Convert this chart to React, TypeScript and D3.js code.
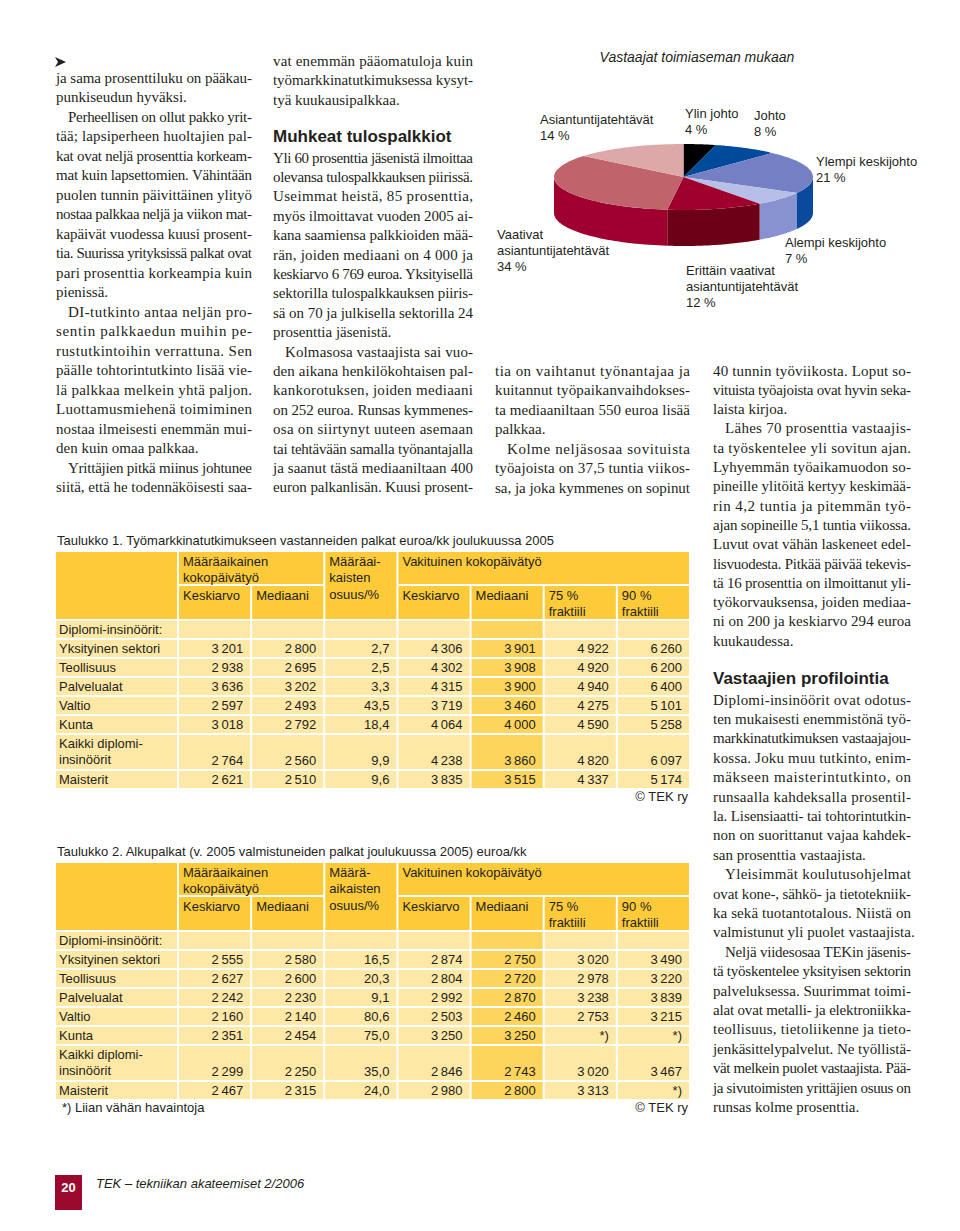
import React from "react";
import * as d3 from "d3";

// ---- pie: Vastaajat toimiaseman mukaan ----
const pieNames = [
  ["Ylin johto"],
  ["Johto"],
  ["Ylempi keskijohto"],
  ["Alempi keskijohto"],
  ["Erittäin vaativat", "asiantuntijatehtävät"],
  ["Vaativat", "asiantuntijatehtävät"],
  ["Asiantuntijatehtävät"],
];
const pieValues = [4, 8, 21, 7, 12, 34, 14];
const pieTop = ["#000000", "#004a9c", "#7580c4", "#b7bee8", "#a0002e", "#c0636b", "#dda8a8"];
const pieSide = ["#000000", "#003a80", "#0a4a9e", "#8892d0", "#6c0016", "#a00030", "#c08888"];
// label anchor (left x, first line centre y)
const pieLabelPos: [number, number][] = [
  [685, 113], [754, 115], [816, 161], [785, 242], [686, 270], [497, 234], [540, 119],
];

// ---- Taulukko 1 ----
const rowNames = [
  ["Yksityinen sektori"], ["Teollisuus"], ["Palvelualat"], ["Valtio"], ["Kunta"],
  ["Kaikki diplomi-", "insinöörit"], ["Maisterit"],
];
const t1FixedMean = [3201, 2938, 3636, 2597, 3018, 2764, 2621];
const t1FixedMedian = [2800, 2695, 3202, 2493, 2792, 2560, 2510];
const t1FixedShare = [2.7, 2.5, 3.3, 43.5, 18.4, 9.9, 9.6];
const t1PermMean = [4306, 4302, 4315, 3719, 4064, 4238, 3835];
const t1PermMedian = [3901, 3908, 3900, 3460, 4000, 3860, 3515];
const t1PermP75 = [4922, 4920, 4940, 4275, 4590, 4820, 4337];
const t1PermP90 = [6260, 6200, 6400, 5101, 5258, 6097, 5174];

// ---- Taulukko 2 ----
const t2FixedMean = [2555, 2627, 2242, 2160, 2351, 2299, 2467];
const t2FixedMedian = [2580, 2600, 2230, 2140, 2454, 2250, 2315];
const t2FixedShare = [16.5, 20.3, 9.1, 80.6, 75.0, 35.0, 24.0];
const t2PermMean = [2874, 2804, 2992, 2503, 3250, 2846, 2980];
const t2PermMedian = [2750, 2720, 2870, 2460, 3250, 2743, 2800];
const t2PermP75 = [3020, 2978, 3238, 2753, null, 3020, 3313];
const t2PermP90 = [3490, 3220, 3839, 3215, null, 3467, null];

// ---- article text ----
type Para = { indent?: boolean; lines: string[]; open?: boolean };

const col1: Para[] = [
  { lines: ["ja sama prosenttiluku on pääkau-", "punkiseudun hyväksi."] },
  {
    indent: true,
    lines: [
      "Perheellisen on ollut pakko yrit-", "tää; lapsiperheen huoltajien pal-",
      "kat ovat neljä prosenttia korkeam-", "mat kuin lapsettomien. Vähintään",
      "puolen tunnin päivittäinen ylityö", "nostaa palkkaa neljä ja viikon mat-",
      "kapäivät vuodessa kuusi prosent-", "tia. Suurissa yrityksissä palkat ovat",
      "pari prosenttia korkeampia kuin", "pienissä.",
    ],
  },
  {
    indent: true,
    lines: [
      "DI-tutkinto antaa neljän pro-", "sentin palkkaedun muihin pe-",
      "rustutkintoihin verrattuna. Sen", "päälle tohtorintutkinto lisää vie-",
      "lä palkkaa melkein yhtä paljon.", "Luottamusmiehenä toimiminen",
      "nostaa ilmeisesti enemmän mui-", "den kuin omaa palkkaa.",
    ],
  },
  { indent: true, open: true, lines: ["Yrittäjien pitkä miinus johtunee", "siitä, että he todennäköisesti saa-"] },
];
const col2a: Para[] = [
  { lines: ["vat enemmän pääomatuloja kuin", "työmarkkinatutkimuksessa kysyt-", "tyä kuukausipalkkaa."] },
];
const col2b: Para[] = [
  {
    lines: [
      "Yli 60 prosenttia jäsenistä ilmoittaa", "olevansa tulospalkkauksen piirissä.",
      "Useimmat heistä, 85 prosenttia,", "myös ilmoittavat vuoden 2005 ai-",
      "kana saamiensa palkkioiden mää-", "rän, joiden mediaani on 4 000 ja",
      "keskiarvo 6 769 euroa. Yksityisellä", "sektorilla tulospalkkauksen piiris-",
      "sä on 70 ja julkisella sektorilla 24", "prosenttia jäsenistä.",
    ],
  },
  {
    indent: true,
    open: true,
    lines: [
      "Kolmasosa vastaajista sai vuo-", "den aikana henkilökohtaisen pal-",
      "kankorotuksen, joiden mediaani", "on 252 euroa. Runsas kymmenes-",
      "osa on siirtynyt uuteen asemaan", "tai tehtävään samalla työnantajalla",
      "ja saanut tästä mediaaniltaan 400", "euron palkanlisän. Kuusi prosent-",
    ],
  },
];
const col3: Para[] = [
  { lines: ["tia on vaihtanut työnantajaa ja", "kuitannut työpaikanvaihdokses-", "ta mediaaniltaan 550 euroa lisää", "palkkaa."] },
  { indent: true, open: true, lines: ["Kolme neljäsosaa sovituista", "työajoista on 37,5 tuntia viikos-", "sa, ja joka kymmenes on sopinut"] },
];
const col4a: Para[] = [
  { lines: ["40 tunnin työviikosta. Loput so-", "vituista työajoista ovat hyvin seka-", "laista kirjoa."] },
  {
    indent: true,
    lines: [
      "Lähes 70 prosenttia vastaajis-", "ta työskentelee yli sovitun ajan.",
      "Lyhyemmän työaikamuodon so-", "pineille ylitöitä kertyy keskimää-",
      "rin 4,2 tuntia ja pitemmän työ-", "ajan sopineille 5,1 tuntia viikossa.",
      "Luvut ovat vähän laskeneet edel-", "lisvuodesta. Pitkää päivää tekevis-",
      "tä 16 prosenttia on ilmoittanut yli-", "työkorvauksensa, joiden mediaa-",
      "ni on 200 ja keskiarvo 294 euroa", "kuukaudessa.",
    ],
  },
];
const col4b: Para[] = [
  {
    lines: [
      "Diplomi-insinöörit ovat odotus-", "ten mukaisesti enemmistönä työ-",
      "markkinatutkimuksen vastaajajou-", "kossa. Joku muu tutkinto, enim-",
      "mäkseen maisterintutkinto, on", "runsaalla kahdeksalla prosentil-",
      "la. Lisensiaatti- tai tohtorintutkin-", "non on suorittanut vajaa kahdek-",
      "san prosenttia vastaajista.",
    ],
  },
  { indent: true, lines: ["Yleisimmät koulutusohjelmat", "ovat kone-, sähkö- ja tietotekniik-", "ka sekä tuotantotalous. Niistä on", "valmistunut yli puolet vastaajista."] },
  {
    indent: true,
    lines: [
      "Neljä viidesosaa TEKin jäsenis-", "tä työskentelee yksityisen sektorin",
      "palveluksessa. Suurimmat toimi-", "alat ovat metalli- ja elektroniikka-",
      "teollisuus, tietoliikenne ja tieto-", "jenkäsittelypalvelut. Ne työllistä-",
      "vät melkein puolet vastaajista. Pää-", "ja sivutoimisten yrittäjien osuus on",
      "runsas kolme prosenttia.",
    ],
  },
];

const SERIF = "'Liberation Serif', 'DejaVu Serif', serif";
const SANS = "'Liberation Sans', Arial, sans-serif";
const INK = "#231f20";

const fi = d3.formatLocale({ decimal: ",", thousands: "\u2009", grouping: [3], currency: ["", " €"] });
const fmtEur = fi.format(",d");
const fmtPct = fi.format(".1f");

function TextColumn({ paras, x0, x1, y0, step }: { paras: Para[]; x0: number; x1: number; y0: number; step: number }) {
  const out: React.ReactNode[] = [];
  let i = 0;
  paras.forEach((p, pi) => {
    p.lines.forEach((ln, li) => {
      const ind = p.indent && li === 0 ? 12 : 0;
      const last = li === p.lines.length - 1 && !p.open;
      out.push(
        <text
          key={`${pi}-${li}`}
          x={x0 + ind}
          y={y0 + i * step + 4.5}
          textLength={last ? undefined : x1 - x0 - ind}
          lengthAdjust={last ? undefined : "spacing"}
        >
          {ln}
        </text>
      );
      i++;
    });
  });
  return (
    <g fontFamily={SERIF} fontSize={15} fill={INK}>
      {out}
    </g>
  );
}

function Pie3D() {
  const cx = 683.5, cy = 177, rx = 129.5, ry = 33, depth = 36;
  const proj = (a: number, dy = 0): [number, number] => [cx + rx * Math.sin(a), cy - ry * Math.cos(a) + dy];
  const arcs = d3.pie<number>().sort(null).value((d) => d)(pieValues);
  const line = d3.line();
  const topPath = (a0: number, a1: number) => {
    const pts = d3.range(41).map((i) => proj(a0 + ((a1 - a0) * i) / 40));
    return line([[cx, cy], ...pts])! + "Z";
  };
  const sidePath = (a0: number, a1: number) => {
    const s = Math.max(a0, Math.PI / 2), e = Math.min(a1, (3 * Math.PI) / 2);
    if (s >= e) return null;
    const top = d3.range(41).map((i) => proj(s + ((e - s) * i) / 40));
    const bot = top.map(([x, y]) => [x, y + depth] as [number, number]).reverse();
    return line([...top, ...bot])! + "Z";
  };
  return (
    <g>
      <text x={697} y={62} textAnchor="middle" fontFamily={SANS} fontStyle="italic" fontSize={14} fill={INK}>
        Vastaajat toimiaseman mukaan
      </text>
      {arcs.map((a, i) => {
        const d = sidePath(a.startAngle, a.endAngle);
        return d ? <path key={"s" + i} d={d} fill={pieSide[i]} /> : null;
      })}
      {arcs.map((a, i) => (
        <path key={"t" + i} d={topPath(a.startAngle, a.endAngle)} fill={pieTop[i]} />
      ))}
      <g fontFamily={SANS} fontSize={13} fill={INK}>
        {pieNames.map((nm, i) => {
          const [lx, ly] = pieLabelPos[i];
          const lines = [...nm, `${pieValues[i]} %`];
          return (
            <text key={i} x={lx} y={ly + 4.5}>
              {lines.map((t, j) => (
                <tspan key={j} x={lx} dy={j === 0 ? 0 : 16}>
                  {t}
                </tspan>
              ))}
            </text>
          );
        })}
      </g>
    </g>
  );
}

const HEAD = "#fdca3a";
const PALE = "#fee8a6";
const MID = "#fdd45c";

function SalaryTable({
  y0, caption, shareHead, cols, footnote,
}: {
  y0: number; caption: string; shareHead: string[]; cols: (number | null)[][]; footnote?: string;
}) {
  const left = 55, right = 690, labelW = 123;
  const x = d3.scaleBand<number>().domain(d3.range(7)).range([left + labelW, right]);
  const bw = x.bandwidth();
  const top = y0 + 11;
  const h1 = 34, h2 = 35;
  const bodyTop = top + h1 + h2;
  const spans = [1, ...rowNames.map((r) => r.length)];
  const rowH = 19;
  const heights = spans.map((s) => (s === 1 ? rowH : 36));
  const ys = [bodyTop, ...Array.from(d3.cumsum(heights)).map((c) => bodyTop + c)];
  const cell = (cx: number, cy: number, w: number, h: number, fill: string, key: string) => (
    <rect key={key} x={cx + 1} y={cy + 1} width={w - 2} height={h - 2} fill={fill} />
  );
  const labels = [["Diplomi-insinöörit:"], ...rowNames];
  const fmt = (v: number | null, c: number) => (v === null ? "*)" : c === 2 ? fmtPct(v) : fmtEur(v));
  const bottom = ys[ys.length - 1];
  return (
    <g fontFamily={SANS} fontSize={13} fill={INK}>
      <text x={57} y={y0 + 4.5}>{caption}</text>
      {/* header */}
      {cell(left, top, labelW, h1 + h2, HEAD, "h0")}
      {cell(x(0)!, top, bw * 2, h1, HEAD, "h1")}
      {cell(x(2)!, top, bw, h1 + h2, HEAD, "h2")}
      {cell(x(3)!, top, bw * 4, h1, HEAD, "h3")}
      {[0, 1, 3, 4, 5, 6].map((c) => cell(x(c)!, top + h1, bw, h2, HEAD, "hh" + c))}
      <text x={x(0)! + 5} y={top + 10 + 4.5}>
        <tspan x={x(0)! + 5}>Määräaikainen</tspan>
        <tspan x={x(0)! + 5} dy={16}>kokopäivätyö</tspan>
      </text>
      <text x={x(2)! + 5} y={top + 10 + 4.5}>
        {shareHead.map((t, j) => (
          <tspan key={j} x={x(2)! + 5} dy={j ? 16.5 : 0}>{t}</tspan>
        ))}
      </text>
      <text x={x(3)! + 5} y={top + 10 + 4.5}>Vakituinen kokopäivätyö</text>
      {["Keskiarvo", "Mediaani", "", "Keskiarvo", "Mediaani", "75 %", "90 %"].map((t, c) =>
        t ? (
          <text key={"k" + c} x={x(c)! + 5} y={top + h1 + 10 + 4.5}>{t}</text>
        ) : null
      )}
      {[5, 6].map((c) => (
        <text key={"f" + c} x={x(c)! + 5} y={top + h1 + 26 + 4.5}>fraktiili</text>
      ))}
      {/* body */}
      {labels.map((lab, r) => {
        const yT = ys[r], h = heights[r];
        const lastLineY = yT + h - rowH / 2 + 4.5;
        return (
          <g key={"r" + r}>
            {cell(left, yT, labelW, h, PALE, "l")}
            {d3.range(7).map((c) => cell(x(c)!, yT, bw, h, c === 4 ? MID : PALE, "c" + c))}
            {lab.map((t, j) => (
              <text key={j} x={59} y={yT + rowH / 2 + j * 16 + 4.5}>{t}</text>
            ))}
            {r > 0 &&
              cols.map((col, c) => (
                <text key={"v" + c} x={x(c)! + bw - 8} y={lastLineY} textAnchor="end">
                  {fmt(col[r - 1], c)}
                </text>
              ))}
          </g>
        );
      })}
      <text x={688} y={bottom + 12} textAnchor="end">© TEK ry</text>
      {footnote && <text x={62} y={bottom + 12}>{footnote}</text>}
    </g>
  );
}

export default function App() {
  return (
    <div style={{ position: "absolute", left: 0, top: 0 }}>
      <svg width={960} height={1231} style={{ display: "block" }}>
        <rect width={960} height={1231} fill="#fff" />
        <path d="M55,57 L66,62 L55,67 L58,62 Z" fill={INK} />
        <TextColumn paras={col1} x0={56} x1={252} y0={78} step={19.52} />
        <TextColumn paras={col2a} x0={273} x1={473} y0={61} step={19.5} />
        <text x={273} y={142} fontFamily={SANS} fontWeight="bold" fontSize={17} fill={INK}>
          Muhkeat tulospalkkiot
        </text>
        <TextColumn paras={col2b} x0={273} x1={473} y0={158} step={19.4} />
        <TextColumn paras={col3} x0={495} x1={690} y0={371} step={19.5} />
        <TextColumn paras={col4a} x0={713} x1={911} y0={371} step={19.3} />
        <text x={713} y={684} fontFamily={SANS} fontWeight="bold" fontSize={17} fill={INK}>
          Vastaajien profilointia
        </text>
        <TextColumn paras={col4b} x0={713} x1={911} y0={700} step={19.4} />
        <Pie3D />
        <SalaryTable
          y0={540}
          caption="Taulukko 1. Työmarkkinatutkimukseen vastanneiden palkat euroa/kk joulukuussa 2005"
          shareHead={["Määräai-", "kaisten", "osuus/%"]}
          cols={[t1FixedMean, t1FixedMedian, t1FixedShare, t1PermMean, t1PermMedian, t1PermP75, t1PermP90]}
        />
        <SalaryTable
          y0={851}
          caption="Taulukko 2. Alkupalkat (v. 2005 valmistuneiden palkat joulukuussa 2005) euroa/kk"
          shareHead={["Määrä-", "aikaisten", "osuus/%"]}
          cols={[t2FixedMean, t2FixedMedian, t2FixedShare, t2PermMean, t2PermMedian, t2PermP75, t2PermP90]}
          footnote="*) Liian vähän havaintoja"
        />
        <rect x={55} y={1175} width={27} height={35} fill="#9b0a2e" />
        <text x={68.5} y={1192} textAnchor="middle" fontFamily={SANS} fontWeight="bold" fontSize={13} fill="#fff">
          20
        </text>
        <text x={96} y={1188} fontFamily={SANS} fontStyle="italic" fontSize={13} fill={INK}>
          TEK – tekniikan akateemiset 2/2006
        </text>
      </svg>
    </div>
  );
}
